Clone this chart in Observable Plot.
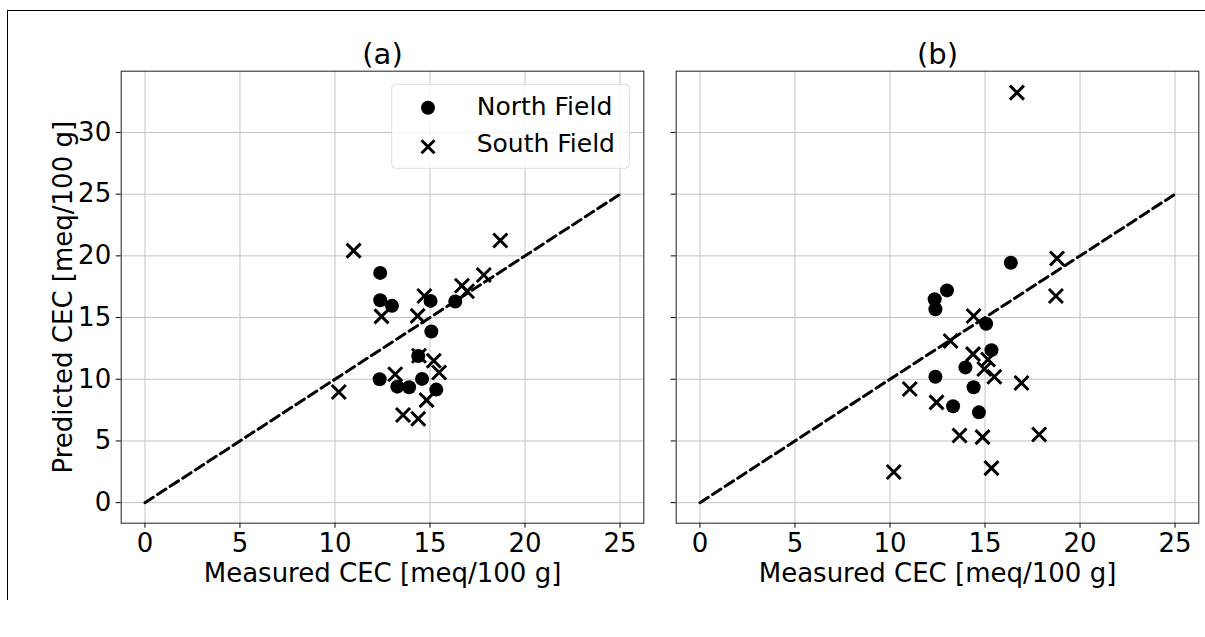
<!DOCTYPE html>
<html><head><meta charset="utf-8">
<script src="https://cdn.jsdelivr.net/npm/d3@7"></script>
<script src="https://cdn.jsdelivr.net/npm/@observablehq/plot@0.6"></script>
<style>
body{margin:0;background:#fff;font-family:"DejaVu Sans",sans-serif;}
#wrap{position:relative;width:1205px;height:637px;overflow:hidden;background:#fff;}
.panel{position:absolute;top:0;}
#border{position:absolute;left:7px;top:10px;width:1300px;height:590px;border-top:1.5px solid #000;border-left:1.5px solid #000;box-sizing:border-box;}
</style></head><body>
<div id="wrap"><div id="border"></div></div>
<script>
// ---- data ----
const titles = ["(a)", "(b)"];
const xLabel = "Measured CEC [meq/100 g]";
const yLabel = "Predicted CEC [meq/100 g]";
const legendLabels = ["North Field", "South Field"];
const xTicks = [0, 5, 10, 15, 20, 25];
const yTicks = [0, 5, 10, 15, 20, 25, 30];
const diagX = [0, 25];
const diagY = [0, 25];

// panel (a)
const aNorthX = [12.38, 12.38, 13.0, 15.03, 16.33, 15.07, 14.38, 12.35, 13.28, 13.9, 14.58, 15.33];
const aNorthY = [18.62, 16.4, 15.95, 16.35, 16.3, 13.87, 11.88, 10.0, 9.4, 9.35, 10.03, 9.16];
const aSouthX = [10.98, 12.45, 18.7, 14.7, 16.68, 16.95, 17.83, 14.35, 10.2, 13.17, 13.58, 14.42, 15.2, 15.48, 14.82, 14.38];
const aSouthY = [20.42, 15.1, 21.25, 16.75, 17.58, 17.13, 18.45, 15.14, 8.97, 10.41, 7.1, 11.9, 11.5, 10.55, 8.31, 6.8];

// panel (b)
const bNorthX = [16.36, 13.0, 12.35, 12.39, 15.06, 15.34, 13.97, 12.39, 14.4, 13.32, 14.68];
const bNorthY = [19.44, 17.2, 16.48, 15.67, 14.5, 12.36, 10.96, 10.2, 9.35, 7.81, 7.32];
const bSouthX = [16.68, 18.79, 18.73, 14.4, 13.19, 14.37, 15.16, 14.96, 15.49, 16.92, 11.04, 12.45, 13.66, 14.87, 17.85, 10.2, 15.34];
const bSouthY = [33.23, 19.79, 16.75, 15.13, 13.1, 12.04, 11.6, 10.83, 10.2, 9.7, 9.21, 8.13, 5.44, 5.31, 5.52, 2.48, 2.8];

const xDomain = [-1.25, 26.25];
const yDomain = [-1.665, 34.965];

const times = {draw(ctx, size) {
  const r = Math.sqrt(size / Math.PI);
  ctx.moveTo(-r, -r); ctx.lineTo(r, r);
  ctx.moveTo(-r, r); ctx.lineTo(r, -r);
}};

const zip = (xs, ys) => xs.map((x, i) => ({x, y: ys[i]}));

function panel(i, north, south, width, ml, showY) {
  const marks = [
    Plot.gridX(xTicks, {stroke: "#c4c4c4", strokeOpacity: 1, strokeWidth: 1}),
    Plot.gridY(yTicks, {stroke: "#c4c4c4", strokeOpacity: 1, strokeWidth: 1}),
    Plot.line(zip(diagX, diagY), {x: "x", y: "y", stroke: "#000", strokeWidth: 3, strokeDasharray: "10,5"}),
    Plot.dot(north, {x: "x", y: "y", r: 7, fill: "#000", stroke: "none"}),
    Plot.dot(south, {x: "x", y: "y", r: 7, symbol: times, fill: "none", stroke: "#000", strokeWidth: 3}),
    Plot.axisX(xTicks, {tickSize: 5, tickPadding: 5, fontSize: 26, label: null, stroke: "#000"}),
    Plot.axisY(yTicks, {tickSize: 5, tickPadding: 5, fontSize: 26, label: null, stroke: "#000",
      tickFormat: showY ? (d => String(d)) : (() => "")}),
    Plot.frame({stroke: "#333", strokeWidth: 1.1}),
    Plot.text([titles[i]], {frameAnchor: "top", dy: -16.7, fontSize: 29, lineAnchor: "middle", fill: "#000"}),
    Plot.text([xLabel], {frameAnchor: "bottom", dy: 50, fontSize: 26, lineAnchor: "middle", fill: "#000"})
  ];
  if (showY) marks.push(Plot.text([yLabel], {frameAnchor: "left", dx: -58, rotate: -90, fontSize: 26,
    textAnchor: "middle", lineAnchor: "middle", fill: "#000"}));
  return Plot.plot({
    width, height: 637,
    marginLeft: ml, marginRight: 6.7, marginTop: 70.7, marginBottom: 114.3,
    x: {domain: xDomain},
    y: {domain: yDomain},
    style: {fontFamily: "DejaVu Sans", color: "#000", background: "transparent", overflow: "visible"},
    marks
  });
}

const wrap = document.getElementById("wrap");
const pa = panel(0, zip(aNorthX, aNorthY), zip(aSouthX, aSouthY), 650, 120.7, true);
pa.classList.add("panel"); pa.style.left = "0px";
const pb = panel(1, zip(bNorthX, bNorthY), zip(bSouthX, bSouthY), 555, 25.7, false);
pb.classList.add("panel"); pb.style.left = "650px";
wrap.appendChild(pa);
wrap.appendChild(pb);

// legend inside panel (a)
const svg = d3.select(pa);
const lg = svg.append("g");
lg.append("rect").attr("x", 391.7).attr("y", 84.3).attr("width", 237.6).attr("height", 84)
  .attr("rx", 4).attr("fill", "rgba(255,255,255,0.8)").attr("stroke", "#dcdcdc").attr("stroke-width", 1);
lg.append("circle").attr("cx", 428).attr("cy", 107.7).attr("r", 7).attr("fill", "#000");
const s = 6.5;
lg.append("path").attr("d", `M${428-s},${146.7-s}L${428+s},${146.7+s}M${428-s},${146.7+s}L${428+s},${146.7-s}`)
  .attr("stroke", "#000").attr("stroke-width", 3).attr("fill", "none");
lg.selectAll("text.lab").data(legendLabels).join("text")
  .attr("x", 476.7).attr("y", (d, i) => [114.5, 152][i]).attr("text-anchor", "start")
  .attr("font-size", 25).attr("font-family", "DejaVu Sans").attr("fill", "#000").text(d => d);
</script>
</body></html>
